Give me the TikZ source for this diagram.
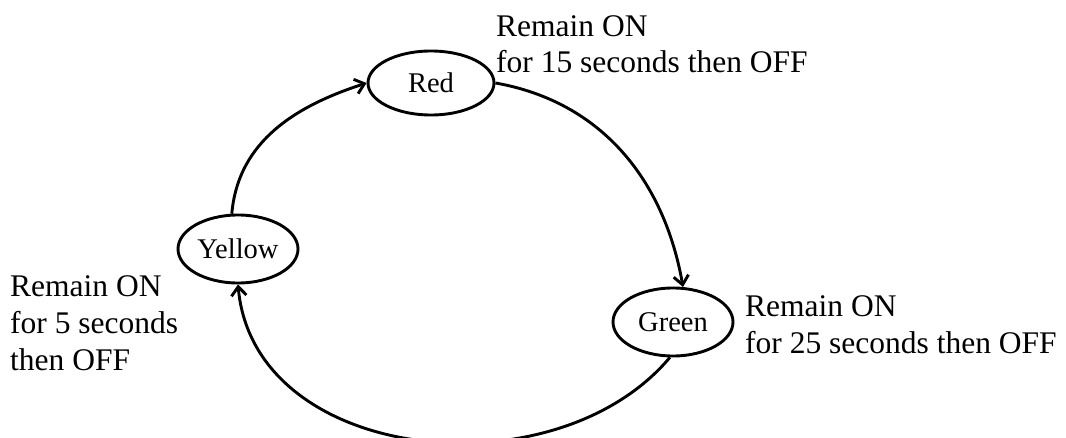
\documentclass[tikz,border=0pt]{standalone}
\usepackage{fontspec}
\setmainfont{Liberation Serif}
\usetikzlibrary{shapes.geometric,arrows.meta}
\begin{document}
\begin{tikzpicture}[x=1pt,y=1pt,
  state/.style={ellipse,draw,line width=2.9pt,minimum width=122pt,minimum height=66pt,inner sep=0pt,font=\fontsize{28.5}{33}\selectfont},
  note/.style={anchor=base west,align=left,inner sep=0pt,font=\fontsize{31.5}{36.8}\selectfont},
  conn/.style={line width=2.9pt,-{Straight Barb[length=9pt,width=15pt]}}]
\useasboundingbox (0,0) rectangle (1066,437);
\node[state,minimum width=126pt,minimum height=64pt] (r) at (431,354) {Red};
\node[state,minimum width=120pt,minimum height=68pt] (g) at (673,115) {Green};
\node[state,minimum width=120pt,minimum height=68pt] (yl) at (238,188) {Yellow};
\node[note] (rn) at (496,364) {Remain ON\\for 15 seconds then OFF};
\node[note] (gn) at (745,84) {Remain ON\\for 25 seconds then OFF};
\node[note] (yn) at (10,67) {Remain ON\\for 5 seconds\\then OFF};
\draw[conn] (yl.100) to[out=85,in=198] (r.west);
\draw[conn] (r.east) to[out=-10,in=100] (g.74);
\draw[conn] (g.265) to[out=230,in=275,looseness=1.05] (yl.south);
\end{tikzpicture}
\end{document}
